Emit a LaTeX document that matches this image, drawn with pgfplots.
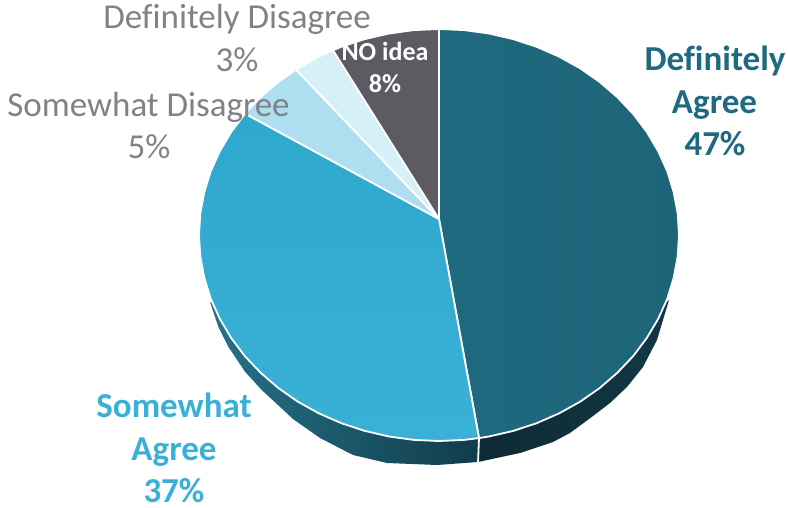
\documentclass[border=0pt]{standalone}
\usepackage{pgfplots}
\pgfplotsset{compat=1.18}
\usepackage{fontspec}
\setmainfont[Ligatures={NoCommon}]{Carlito}
\definecolor{agreeDark}{HTML}{1F6A80}
\definecolor{agreeDarkB}{HTML}{1D6477}
\definecolor{agreeMid}{HTML}{3AB0D6}
\definecolor{agreeMidB}{HTML}{2FA8CD}
\definecolor{disLight}{HTML}{ADDFF0}
\definecolor{disPale}{HTML}{D6F0F9}
\definecolor{noIdea}{HTML}{5B5B61}
\definecolor{labelGrey}{HTML}{808285}
\definecolor{rimA}{HTML}{24728A}
\definecolor{rimB}{HTML}{123C4A}
\definecolor{rimC}{HTML}{0C2A33}
\definecolor{rimD}{HTML}{133845}
\begin{document}
\begin{tikzpicture}
\path[use as bounding box] (0,0) rectangle (788pt,507pt);
\begin{axis}[
  at={(0,0)}, anchor=south west,
  hide axis, scale only axis, width=788pt, height=507pt,
  xmin=0, xmax=788, ymin=0, ymax=507, y dir=reverse,
]
% side wall of the disc, two segments
\addplot[draw=none, left color=rimA, right color=rimB] coordinates {
 (210,302) (218.3,326.7) (228.3,346.7) (245,371.7) (261.7,390) (278,405) (293,419)
 (320,438) (353,455) (387,463) (437,465) (478,462) (479,438) (210,302)};
\addplot[draw=none, left color=rimC, right color=rimD] coordinates {
 (478,462) (520,453) (553,442) (570,433) (593,416) (610,403) (627,387) (643,367)
 (657,340) (663,320) (669,300) (479,438) (478,462)};
\addplot[draw=white, line width=1.8pt] coordinates {(479,438) (478,463)};
% top face: Definitely Agree
\addplot[draw=white, line width=1.8pt, left color=agreeDark, right color=agreeDarkB] coordinates {
 (439,219) (439,29) (464.1,30.1) (488.9,33.5) (513.2,39.1) (536.6,46.8) (559,56.6)
 (580.1,68.3) (599.6,81.9) (617.3,97.2) (633.2,113.9) (646.8,132) (658.2,151.2)
 (667.3,171.3) (673.7,192.2) (677.7,213.5) (679,235) (677.7,256.5) (673.7,277.8)
 (667.3,298.7) (658.2,318.8) (646.8,338) (633.2,356.1) (617.3,372.8) (599.6,388.1)
 (580.1,401.7) (559,413.4) (536.6,423.2) (513.2,430.9) (488.9,436.5) (479,438.1) (439,219)};
% top face: Somewhat Agree
\addplot[draw=white, line width=1.8pt, top color=agreeMidB, bottom color=agreeMid] coordinates {
 (439,219) (479,438.1) (464.1,439.9) (439,441) (413.9,439.9) (389.1,436.5) (364.8,430.9)
 (341.4,423.2) (319,413.4) (297.9,401.7) (278.4,388.1) (260.7,372.8) (244.8,356.1)
 (231.2,338) (219.8,318.8) (210.7,298.7) (204.3,277.8) (200.3,256.5) (199,235)
 (200.3,213.5) (204.3,192.2) (210.7,171.3) (219.8,151.2) (231.2,132) (245.1,113.6) (439,219)};
% top face: Somewhat Disagree
\addplot[draw=white, line width=1.8pt, fill=disLight] coordinates {
 (439,219) (245.1,113.6) (260.7,97.2) (278.4,81.9) (296,69.6) (439,219)};
% top face: Definitely Disagree
\addplot[draw=white, line width=1.8pt, fill=disPale] coordinates {
 (439,219) (296,69.6) (319,56.6) (333,50.2) (439,219)};
% top face: NO idea
\addplot[draw=white, line width=1.8pt, fill=noIdea] coordinates {
 (439,219) (333,50.2) (341.4,46.8) (364.8,39.1) (389.1,33.5) (413.9,30.1) (439,29) (439,219)};
% data labels, one node per line
\tikzset{
  big/.style={anchor=base, inner sep=0pt, font=\fontsize{35}{35}\selectfont},
  bigb/.style={anchor=base, inner sep=0pt, font=\fontsize{35}{35}\selectfont\bfseries},
  small/.style={anchor=base, inner sep=0pt, font=\fontsize{26}{26}\selectfont\bfseries, text=white},
}
\node[bigb, text=agreeDark] at (axis cs:715,70) {Definitely};
\node[bigb, text=agreeDark] at (axis cs:714.5,113) {Agree};
\node[bigb, text=agreeDark] at (axis cs:715,155.5) {47\%};
\node[bigb, text=agreeMid] at (axis cs:174,417) {Somewhat};
\node[bigb, text=agreeMid] at (axis cs:174,460.5) {Agree};
\node[bigb, text=agreeMid] at (axis cs:174,502) {37\%};
\node[big, text=labelGrey] at (axis cs:237,28.3) {Definitely Disagree};
\node[big, text=labelGrey] at (axis cs:237,71.7) {3\%};
\node[big, text=labelGrey] at (axis cs:148.5,116.7) {Somewhat Disagree};
\node[big, text=labelGrey] at (axis cs:149,158) {5\%};
\node[small] at (axis cs:385,60.7) {NO idea};
\node[small] at (axis cs:385,92.3) {8\%};
\end{axis}
\end{tikzpicture}
\end{document}
